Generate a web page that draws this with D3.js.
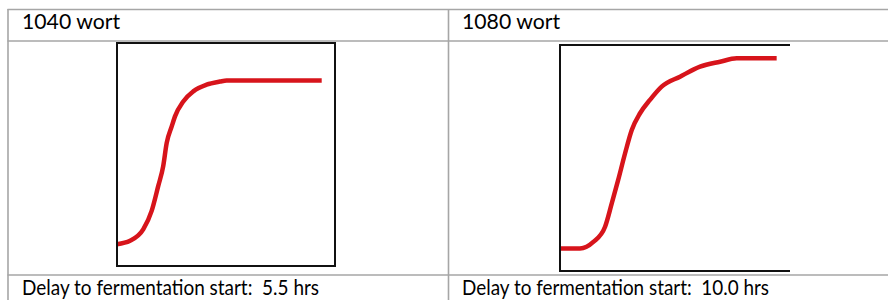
<!DOCTYPE html>
<html>
<head>
<meta charset="utf-8">
<script src="https://cdn.jsdelivr.net/npm/d3@7/dist/d3.min.js"></script>
<style>
  body { margin: 0; background: #fff; }
  text { font-family: Lato, "Open Sans", sans-serif; fill: #000; white-space: pre; }
</style>
</head>
<body>
<svg id="chart" width="888" height="300"></svg>
<script>
// column headers and footers
var titles = ["1040 wort", "1080 wort"];
var delays = ["Delay to fermentation start:  5.5 hrs", "Delay to fermentation start:  10.0 hrs"];

// curves (percent of box width / height)
var wort1040X = [0, 6.0, 12.1, 15.9, 18.9, 21.2, 22.8, 25.1, 26.6, 30.4, 35.0, 41.1, 47.2, 50.3, 93.9];
var wort1040Y = [9.8, 11.3, 16.5, 24.7, 35.8, 44.8, 55.2, 62.6, 67.1, 73.8, 78.3, 81.3, 82.7, 83.2, 83.2];
var wort1080X = [0, 8.7, 14.5, 19.6, 22.5, 25.3, 28.3, 31.2, 34.8, 39.1, 44.2, 52.2, 60.9, 69.6, 76.8, 94.2];
var wort1080Y = [10.0, 10.0, 12.9, 19.6, 29.9, 40.3, 52.1, 62.4, 69.8, 75.7, 81.6, 86.0, 90.4, 92.6, 94.1, 94.1];

var svg = d3.select("#chart");

// table grid
var grid = svg.append("g").attr("stroke", "#a6a6a6").attr("stroke-width", 1.6);
[9.5, 41, 275].forEach(function(y) {
  grid.append("line").attr("x1", 7.5).attr("x2", 888).attr("y1", y).attr("y2", y);
});
[8, 448.5].forEach(function(x) {
  grid.append("line").attr("x1", x).attr("x2", x).attr("y1", 9).attr("y2", 300);
});

var panels = [
  {x0: 117, x1: 335, y0: 43, y1: 266, xs: wort1040X, ys: wort1040Y, right: true, titleW: 98, delayW: 297},
  {x0: 560, x1: 790, y0: 45, y1: 271, xs: wort1080X, ys: wort1080Y, right: false, titleW: 98, delayW: 307}
];

panels.forEach(function(p, i) {
  var colX = i == 0 ? 22 : 462;

  svg.append("text").attr("x", colX).attr("y", 28.5)
    .style("font-size", "21px")
    .attr("textLength", p.titleW).attr("lengthAdjust", "spacingAndGlyphs")
    .text(titles[i]);
  svg.append("text").attr("x", colX).attr("y", 294.5)
    .style("font-size", "21px")
    .attr("textLength", p.delayW).attr("lengthAdjust", "spacingAndGlyphs")
    .text(delays[i]);

  var x = d3.scaleLinear().domain([0, 100]).range([p.x0, p.x1]);
  var y = d3.scaleLinear().domain([0, 100]).range([p.y1, p.y0]);

  var g = svg.append("g");

  var pts = p.xs.map(function(d, j) { return [d, p.ys[j]]; });
  var line = d3.line()
    .x(function(d) { return x(d[0]); })
    .y(function(d) { return y(d[1]); })
    .curve(d3.curveMonotoneX);

  g.append("path").datum(pts)
    .attr("d", line)
    .attr("fill", "none")
    .attr("stroke", "#d7141b")
    .attr("stroke-width", 4.5)
    .attr("stroke-linecap", "butt");

  // frame
  var fr = g.append("g").attr("stroke", "#111").attr("stroke-width", 2).attr("fill", "none");
  fr.append("line").attr("x1", x(0)).attr("x2", x(0)).attr("y1", y(100) - 1).attr("y2", y(0) + 1);
  fr.append("line").attr("x1", x(0) - 1).attr("x2", x(100) + (p.right ? 1 : 0)).attr("y1", y(100)).attr("y2", y(100));
  fr.append("line").attr("x1", x(0) - 1).attr("x2", x(100) + (p.right ? 1 : 0)).attr("y1", y(0)).attr("y2", y(0));
  if (p.right)
    fr.append("line").attr("x1", x(100)).attr("x2", x(100)).attr("y1", y(100)).attr("y2", y(0));
});
</script>
</body>
</html>
